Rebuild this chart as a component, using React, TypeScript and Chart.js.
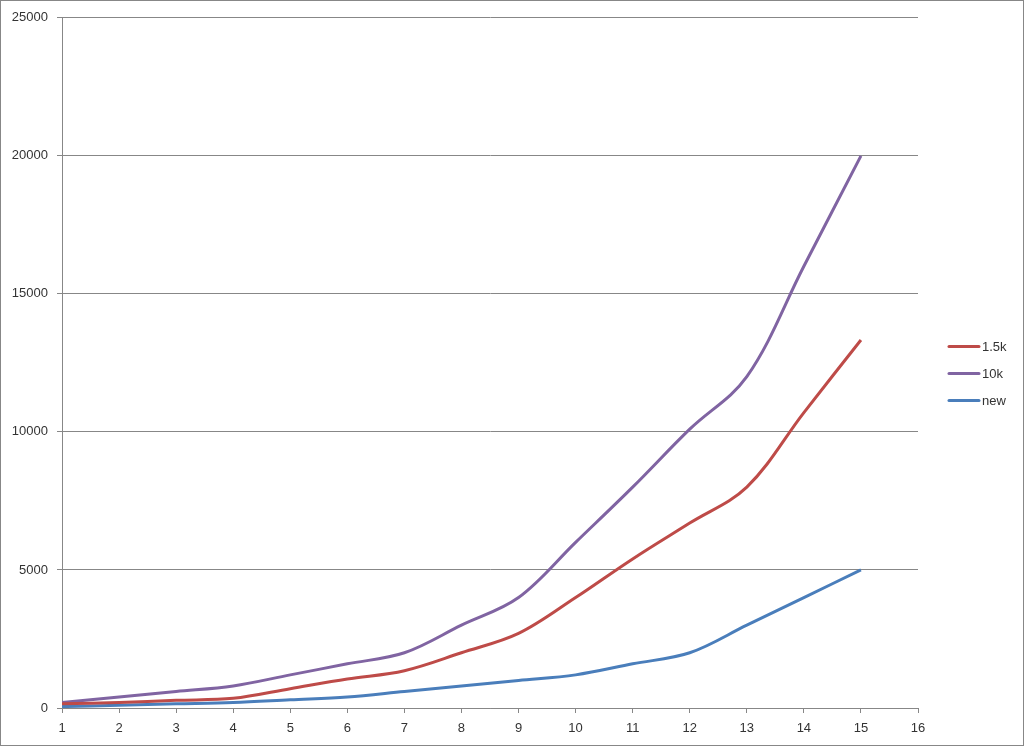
import React, { useEffect, useRef } from "react";
import { Chart, registerables } from "chart.js";

Chart.register(...registerables);

const xValues = [1, 2, 3, 4, 5, 6, 7, 8, 9, 10, 11, 12, 13, 14, 15];
const series15k = [150, 200, 280, 350, 700, 1050, 1350, 2000, 2700, 4000, 5400, 6700, 8000, 10700, 13330];
const series10k = [200, 400, 600, 800, 1200, 1600, 2000, 3000, 4000, 6000, 8000, 10100, 12000, 16000, 20000];
const seriesNew = [50, 100, 150, 200, 300, 400, 600, 800, 1000, 1200, 1600, 2000, 3000, 4000, 5000];
const seriesNames = ["1.5k", "10k", "new"];
const seriesColors = ["#BE4B48", "#8064A2", "#4A7EBB"];
const xMin = 1;
const xMax = 16;
const yMax = 25000;
const yStep = 5000;

const FONT = "'Liberation Sans', Arial, sans-serif";
const GRID = "#878787";
const TEXT = "#333333";

const legendPlugin = {
  id: "sideLegend",
  afterDraw(chart: any) {
    const ctx = chart.ctx;
    const ds = chart.data.datasets;
    ctx.save();
    ds.forEach((d: any, i: number) => {
      const y = 345 + i * 27;
      ctx.strokeStyle = d.borderColor;
      ctx.lineWidth = 3;
      ctx.lineCap = "round";
      ctx.beginPath();
      ctx.moveTo(948, y + 0.5);
      ctx.lineTo(978, y + 0.5);
      ctx.stroke();
      ctx.fillStyle = TEXT;
      ctx.font = "13px " + FONT;
      ctx.textBaseline = "middle";
      ctx.textAlign = "left";
      ctx.fillText(d.label, 981, y + 1);
    });
    ctx.restore();
  },
};

export default function App() {
  const ref = useRef<HTMLCanvasElement>(null);
  useEffect(() => {
    document.body.style.margin = "0";
    const mk = (vals: number[]) => vals.map((v, i) => ({ x: xValues[i], y: v }));
    const chart = new Chart(ref.current!, {
      type: "line",
      data: {
        datasets: [series15k, series10k, seriesNew].map((vals, i) => ({
          label: seriesNames[i],
          data: mk(vals),
          borderColor: seriesColors[i],
          backgroundColor: seriesColors[i],
          borderWidth: 3,
          pointRadius: 0,
          tension: 0.35,
          fill: false,
        })),
      },
      options: {
        animation: false,
        responsive: false,
        maintainAspectRatio: false,
        layout: { padding: { top: 16, right: 105, left: 0, bottom: 0 } },
        plugins: { legend: { display: false }, tooltip: { enabled: false } },
        scales: {
          x: {
            type: "linear",
            min: xMin,
            max: xMax,
            ticks: {
              stepSize: 1,
              color: TEXT,
              font: { family: FONT, size: 13 },
              padding: 8,
              maxRotation: 0,
              callback: (v: any) => String(v),
            },
            grid: { drawOnChartArea: false, drawTicks: true, tickLength: 5, color: GRID },
            border: { color: GRID },
            afterFit: (s: any) => {
              s.height = 37;
            },
          },
          y: {
            min: 0,
            max: yMax,
            ticks: {
              stepSize: yStep,
              color: TEXT,
              font: { family: FONT, size: 13 },
              padding: 9,
              callback: (v: any) => String(v),
            },
            grid: { color: GRID, tickLength: 5 },
            border: { color: GRID },
            afterFit: (s: any) => {
              s.width = 61;
            },
          },
        },
      },
      plugins: [legendPlugin],
    });
    return () => chart.destroy();
  }, []);
  return (
    <div
      style={{
        position: "relative",
        width: 1024,
        height: 746,
        border: "1px solid #878787",
        boxSizing: "border-box",
        background: "#fff",
      }}
    >
      <canvas ref={ref} width={1022} height={744} style={{ display: "block" }} />
    </div>
  );
}
